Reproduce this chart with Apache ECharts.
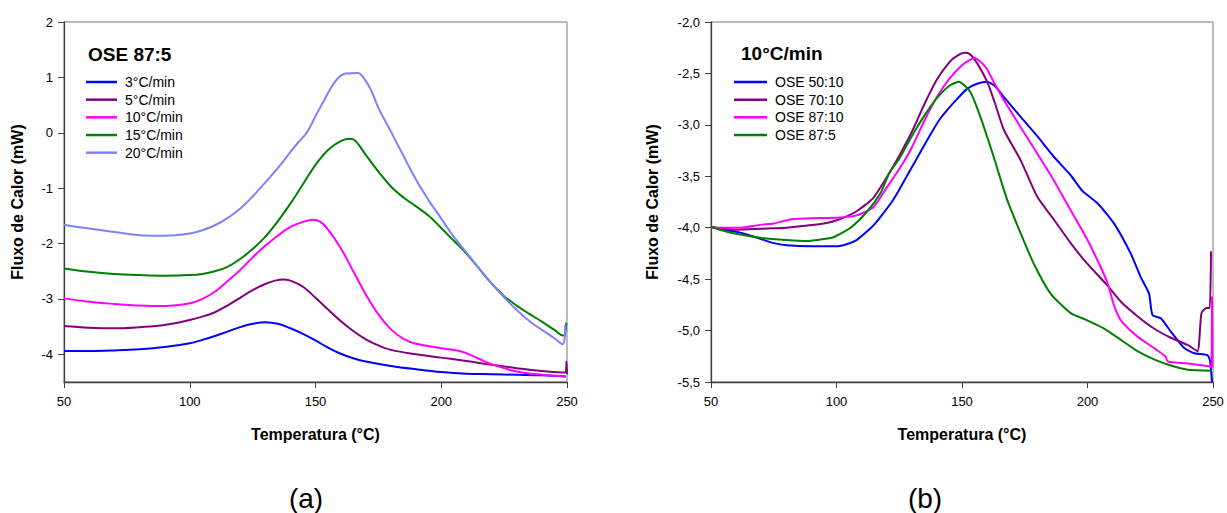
<!DOCTYPE html>
<html>
<head>
<meta charset="utf-8">
<script src="https://cdn.jsdelivr.net/npm/echarts@6/dist/echarts.min.js"></script>
<style>
  html, body { margin: 0; padding: 0; background: #ffffff; }
  #chart { width: 1227px; height: 513px; }
</style>
</head>
<body>
<div id="chart"></div>
<script>
// ---- Panel (a): OSE 87:5 at different heating rates, [T (°C), heat flow (mW)] ----
const rate3 = [[50,-3.94],[60,-3.94],[70,-3.93],[80,-3.91],[90,-3.87],[100,-3.80],[105,-3.74],[110,-3.67],[115,-3.59],[120,-3.51],[125,-3.45],[130,-3.42],[135,-3.45],[140,-3.53],[145,-3.63],[150,-3.75],[155,-3.88],[160,-3.99],[165,-4.07],[170,-4.13],[180,-4.21],[190,-4.27],[200,-4.32],[210,-4.35],[220,-4.36],[230,-4.37],[240,-4.38],[249.5,-4.40]];
const rate5 = [[50,-3.49],[60,-3.52],[70,-3.53],[80,-3.51],[90,-3.47],[100,-3.38],[105,-3.32],[110,-3.24],[115,-3.12],[120,-2.98],[125,-2.84],[130,-2.73],[134,-2.67],[137,-2.65],[140,-2.67],[145,-2.78],[150,-2.98],[155,-3.19],[160,-3.40],[165,-3.58],[170,-3.73],[175,-3.84],[180,-3.92],[190,-4.00],[200,-4.06],[210,-4.12],[220,-4.19],[230,-4.25],[240,-4.30],[249.5,-4.33],[249.8,-4.13],[250,-4.36]];
const rate10 = [[50,-2.99],[60,-3.05],[70,-3.09],[80,-3.12],[90,-3.13],[100,-3.08],[105,-3.00],[110,-2.87],[115,-2.68],[120,-2.48],[125,-2.25],[130,-2.04],[135,-1.86],[140,-1.70],[145,-1.61],[149,-1.57],[152,-1.61],[155,-1.75],[160,-2.08],[165,-2.50],[170,-2.92],[175,-3.28],[180,-3.55],[185,-3.72],[190,-3.81],[200,-3.89],[208,-3.95],[215,-4.08],[220,-4.18],[230,-4.31],[240,-4.37],[249.5,-4.40]];
const rate15 = [[50,-2.45],[60,-2.51],[70,-2.55],[80,-2.57],[90,-2.58],[100,-2.57],[105,-2.55],[110,-2.50],[115,-2.42],[120,-2.28],[125,-2.10],[130,-1.88],[135,-1.60],[140,-1.28],[145,-0.93],[150,-0.58],[155,-0.31],[160,-0.15],[164,-0.11],[166,-0.15],[170,-0.40],[175,-0.70],[180,-0.97],[185,-1.17],[190,-1.33],[195,-1.50],[200,-1.72],[205,-1.95],[210,-2.18],[215,-2.45],[220,-2.72],[225,-2.95],[230,-3.12],[235,-3.27],[240,-3.41],[245,-3.56],[248.5,-3.66],[249.2,-3.64],[249.7,-3.43]];
const rate20 = [[50,-1.66],[60,-1.73],[70,-1.79],[80,-1.85],[90,-1.86],[100,-1.82],[105,-1.76],[110,-1.67],[115,-1.54],[120,-1.37],[125,-1.15],[130,-0.90],[135,-0.64],[140,-0.35],[143,-0.18],[146,-0.03],[148,0.12],[150,0.30],[153,0.55],[156,0.80],[159,0.99],[162,1.07],[167,1.08],[169,1.00],[172,0.78],[175,0.45],[180,0.02],[185,-0.42],[190,-0.85],[195,-1.22],[200,-1.55],[205,-1.88],[210,-2.16],[215,-2.45],[220,-2.72],[225,-2.97],[230,-3.20],[235,-3.40],[240,-3.56],[245,-3.71],[248.3,-3.82],[249.3,-3.47]];

// ---- Panel (b): samples at 10 °C/min ----
const ose5010 = [[50,-3.99],[55,-4.02],[60,-4.04],[65,-4.07],[70,-4.11],[75,-4.15],[80,-4.17],[90,-4.18],[100,-4.18],[104,-4.16],[108,-4.12],[112,-4.04],[115,-3.97],[118,-3.88],[122,-3.75],[125,-3.63],[128,-3.50],[131,-3.37],[134,-3.24],[138,-3.07],[141,-2.95],[145,-2.83],[148,-2.75],[152,-2.65],[156,-2.60],[160,-2.58],[163,-2.62],[166.7,-2.73],[173.3,-2.92],[180,-3.11],[186.6,-3.31],[193.3,-3.49],[197.9,-3.64],[203.9,-3.76],[210.6,-3.96],[217.2,-4.25],[221.2,-4.48],[224.5,-4.64],[225.9,-4.85],[229.2,-4.88],[233.2,-5.01],[238.5,-5.17],[242.5,-5.22],[247.8,-5.24],[248.8,-5.29],[249.6,-5.5]];
const ose7010 = [[50,-3.99],[55,-4.01],[60,-4.02],[70,-4.01],[80,-4.00],[88,-3.98],[95,-3.96],[101,-3.92],[108,-3.84],[114.7,-3.71],[120,-3.51],[125,-3.30],[130,-3.07],[135,-2.80],[140,-2.56],[145,-2.39],[148,-2.33],[151,-2.30],[153,-2.31],[156,-2.40],[160,-2.58],[163,-2.78],[166.7,-3.05],[173.3,-3.34],[180,-3.70],[186.6,-3.92],[193.3,-4.15],[199.9,-4.35],[207.9,-4.56],[213.3,-4.72],[219.9,-4.86],[226.5,-4.98],[233.2,-5.07],[239.9,-5.14],[243.8,-5.20],[245.4,-4.83],[247.4,-4.78],[248.7,-4.78],[249.2,-4.23]];
const ose8710 = [[50,-4.00],[61.6,-4.00],[70,-3.97],[75,-3.96],[81.5,-3.92],[88,-3.91],[101.4,-3.90],[108,-3.88],[114.7,-3.80],[120,-3.61],[125,-3.43],[130,-3.22],[135,-2.96],[140,-2.73],[145,-2.55],[150,-2.42],[153,-2.37],[155,-2.35],[158,-2.40],[160,-2.46],[163,-2.60],[166.7,-2.76],[170,-2.89],[173.3,-3.02],[180,-3.28],[186.6,-3.54],[193.3,-3.83],[200,-4.12],[205,-4.37],[208,-4.54],[210.5,-4.75],[213.3,-4.90],[220,-5.06],[226.5,-5.17],[231,-5.25],[232,-5.30],[240,-5.32],[249,-5.35],[249.4,-5.36],[249.6,-4.67],[249.8,-5.36]];
const ose875 = [[50,-3.99],[55,-4.03],[60,-4.06],[65,-4.08],[70,-4.10],[80,-4.12],[88,-4.13],[95,-4.11],[99,-4.09],[105.6,-4.00],[112.3,-3.84],[117.6,-3.66],[121,-3.47],[125,-3.33],[130,-3.11],[135,-2.91],[140,-2.74],[145,-2.62],[148.7,-2.58],[153.3,-2.68],[157.3,-2.92],[162.6,-3.31],[168,-3.73],[173.3,-4.05],[178.6,-4.35],[185.3,-4.64],[193.3,-4.83],[199.9,-4.90],[206.6,-4.98],[213.3,-5.09],[219.9,-5.20],[226.5,-5.28],[233.2,-5.34],[239.9,-5.38],[249.5,-5.39]];

const namesA = ['3°C/min', '5°C/min', '10°C/min', '15°C/min', '20°C/min'];
const namesB = ['OSE 50:10', 'OSE 70:10', 'OSE 87:10', 'OSE 87:5'];
const colorsA = ['#0000ff', '#800080', '#ff00ff', '#008000', '#8080ff'];
const colorsB = ['#0000ff', '#800080', '#ff00ff', '#008000'];
const fluxTicksA = [-4, -3, -2, -1, 0, 1, 2];

const FONT = '"Liberation Sans", Arial, sans-serif';
const AXIS_COLOR = '#404040';

function xAxisFor(gridIndex) {
  return {
    type: 'value', gridIndex: gridIndex, min: 50, max: 250, interval: 50,
    name: 'Temperatura (°C)', nameLocation: 'middle', nameGap: 44,
    nameTextStyle: { fontFamily: FONT, fontSize: 16, fontWeight: 'bold', color: '#000' },
    axisLine: { show: true, onZero: false, lineStyle: { color: AXIS_COLOR, width: 1.3 } },
    axisTick: { show: true, inside: false, length: 6, lineStyle: { color: AXIS_COLOR } },
    axisLabel: { fontFamily: FONT, fontSize: 13, color: '#000', margin: 13 },
    splitLine: { show: false }
  };
}

function lineSeries(name, data, color, idx, smooth) {
  return {
    name: name, type: 'line', data: data, xAxisIndex: idx, yAxisIndex: idx,
    symbol: 'none', smooth: smooth, clip: true,
    lineStyle: { color: color, width: 2 }, itemStyle: { color: color },
    emphasis: { disabled: true }
  };
}

const seriesA = [rate3, rate5, rate10, rate15, rate20].map((d, i) => lineSeries(namesA[i], d, colorsA[i], 0, 0.4));
const seriesB = [ose5010, ose7010, ose8710, ose875].map((d, i) => lineSeries(namesB[i], d, colorsB[i], 1, 0.2));

function legendFor(names, left, width) {
  return {
    data: names.map(n => ({ name: n, icon: 'rect' })),
    orient: 'vertical', left: left, top: 75, padding: 0,
    itemWidth: width, itemHeight: 2.5, itemGap: 3.67, selectedMode: false,
    textStyle: { fontFamily: FONT, fontSize: 14, lineHeight: 14, color: '#000', padding: [0, 0, 0, 3] }
  };
}

const chart = echarts.init(document.getElementById('chart'), null, { renderer: 'svg' });
chart.setOption({
  backgroundColor: '#ffffff',
  animation: false,
  grid: [
    { left: 64, top: 22, width: 503, height: 360, show: true, borderColor: '#7a7a7a', borderWidth: 1, containLabel: false },
    { left: 711, top: 22, width: 502, height: 360, show: true, borderColor: '#7a7a7a', borderWidth: 1, containLabel: false }
  ],
  xAxis: [xAxisFor(0), xAxisFor(1)],
  yAxis: [
    {
      type: 'value', gridIndex: 0, min: -4.5, max: 2, interval: 0.5,
      name: 'Fluxo de Calor (mW)', nameLocation: 'middle', nameGap: 39,
      nameTextStyle: { fontFamily: FONT, fontSize: 16, fontWeight: 'bold', color: '#000' },
      axisLine: { show: true, onZero: false, lineStyle: { color: AXIS_COLOR, width: 1.3 } },
      axisTick: { show: true, length: 6, lineStyle: { color: AXIS_COLOR }, customValues: fluxTicksA },
      axisLabel: { fontFamily: FONT, fontSize: 13, color: '#000', margin: 11, customValues: fluxTicksA },
      splitLine: { show: false }
    },
    {
      type: 'value', gridIndex: 1, min: -5.5, max: -2.0, interval: 0.5,
      name: 'Fluxo de Calor (mW)', nameLocation: 'middle', nameGap: 51,
      nameTextStyle: { fontFamily: FONT, fontSize: 16, fontWeight: 'bold', color: '#000' },
      axisLine: { show: true, onZero: false, lineStyle: { color: AXIS_COLOR, width: 1.3 } },
      axisTick: { show: true, length: 6, lineStyle: { color: AXIS_COLOR } },
      axisLabel: {
        fontFamily: FONT, fontSize: 13, color: '#000', margin: 11,
        formatter: v => v.toFixed(1).replace('.', ',')
      },
      splitLine: { show: false }
    }
  ],
  legend: [legendFor(namesA, 86, 31), legendFor(namesB, 734, 33)],
  graphic: [
    { type: 'text', left: 88, top: 45, style: { text: 'OSE 87:5', fontFamily: FONT, fontSize: 19, fontWeight: 'bold', fill: '#000' } },
    { type: 'text', left: 741, top: 44, style: { text: '10°C/min', fontFamily: FONT, fontSize: 19, fontWeight: 'bold', fill: '#000' } },
    { type: 'text', x: 306, y: 498, style: { text: '(a)', fontFamily: FONT, fontSize: 28, fill: '#000', align: 'center', verticalAlign: 'middle' } },
    { type: 'text', x: 925, y: 498, style: { text: '(b)', fontFamily: FONT, fontSize: 28, fill: '#000', align: 'center', verticalAlign: 'middle' } }
  ],
  series: seriesA.concat(seriesB)
});
</script>
</body>
</html>
